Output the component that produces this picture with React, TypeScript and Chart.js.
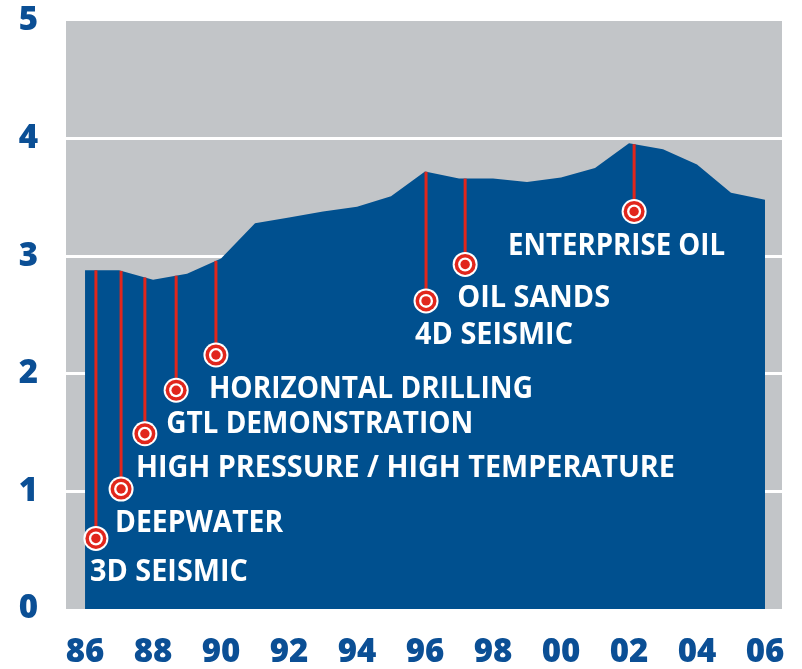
import React, { useEffect, useRef } from 'react';
import { Chart, registerables } from 'chart.js';

Chart.register(...registerables);

// ---- data ----
const years = [1986, 1987, 1988, 1989, 1990, 1991, 1992, 1993, 1994, 1995, 1996, 1997, 1998, 1999, 2000, 2001, 2002, 2003, 2004, 2005, 2006];
const values = [2.88, 2.88, 2.80, 2.85, 2.98, 3.28, 3.33, 3.38, 3.42, 3.51, 3.72, 3.66, 3.66, 3.63, 3.67, 3.75, 3.96, 3.91, 3.78, 3.54, 3.48];

const xTickYears = [1986, 1988, 1990, 1992, 1994, 1996, 1998, 2000, 2002, 2004, 2006];
const xTickLabels = ['86', '88', '90', '92', '94', '96', '98', '00', '02', '04', '06'];
const yTickValues = [0, 1, 2, 3, 4, 5];
const yTickLabels = ['0', '1', '2', '3', '4', '5'];

const annotationLabels = ['3D SEISMIC', 'DEEPWATER', 'HIGH PRESSURE / HIGH TEMPERATURE', 'GTL DEMONSTRATION', 'HORIZONTAL DRILLING', '4D SEISMIC', 'OIL SANDS', 'ENTERPRISE OIL'];
const annotationYears = [1986.32, 1987.06, 1987.76, 1988.68, 1989.85, 1996.03, 1997.18, 2002.15];
const annotationMarkerValues = [0.60, 1.02, 1.49, 1.86, 2.16, 2.62, 2.93, 3.38];

// ---- layout / style (not data) ----
const labelOffsetX = [-6, -6, -9, -10, -7, -11, -8, -126];
const labelWidths = [158, 168, 539, 307, 324, 158, 153, 217];
const LABEL_DY = 43;

const BLUE = '#00508f';
const TEXT_BLUE = '#0b4f95';
const RED = '#e1261c';
const GREY = '#c2c5c8';
const FONT = '"Open Sans", "DejaVu Sans", sans-serif';

function interp(x: number): number {
  for (let i = 0; i < years.length - 1; i++) {
    if (x >= years[i] && x <= years[i + 1]) {
      const t = (x - years[i]) / (years[i + 1] - years[i]);
      return values[i] + t * (values[i + 1] - values[i]);
    }
  }
  return values[values.length - 1];
}

const bgPlugin = {
  id: 'bgPlugin',
  beforeDraw(chart: any) {
    const { ctx, chartArea } = chart;
    ctx.save();
    ctx.fillStyle = GREY;
    ctx.fillRect(chartArea.left, chartArea.top, chartArea.right - chartArea.left, chartArea.bottom - chartArea.top);
    ctx.restore();
  },
};

const annotationPlugin = {
  id: 'annotationPlugin',
  afterDatasetsDraw(chart: any) {
    const { ctx } = chart;
    const xs = chart.scales.x;
    const ys = chart.scales.y;
    ctx.save();
    annotationLabels.forEach((label, i) => {
      const px = xs.getPixelForValue(annotationYears[i]);
      const py = ys.getPixelForValue(annotationMarkerValues[i]);
      const top = ys.getPixelForValue(interp(annotationYears[i]));
      ctx.strokeStyle = RED;
      ctx.lineWidth = 3;
      ctx.beginPath();
      ctx.moveTo(px, top);
      ctx.lineTo(px, py);
      ctx.stroke();
      const rings: [number, string][] = [[12.5, '#ffffff'], [10.5, RED], [7, '#ffffff'], [4.7, RED]];
      rings.forEach(([r, c]) => {
        ctx.fillStyle = c;
        ctx.beginPath();
        ctx.arc(px, py, r, 0, Math.PI * 2);
        ctx.fill();
      });
      ctx.font = `bold 31px ${FONT}`;
      ctx.fillStyle = '#ffffff';
      ctx.textAlign = 'left';
      ctx.textBaseline = 'alphabetic';
      const w = ctx.measureText(label).width;
      const sx = labelWidths[i] / w;
      ctx.save();
      ctx.translate(px + labelOffsetX[i], py + LABEL_DY);
      ctx.scale(sx, 1);
      ctx.fillText(label, 0, 0);
      ctx.restore();
    });
    ctx.restore();
  },
};

export default function App() {
  const canvasRef = useRef<HTMLCanvasElement | null>(null);

  useEffect(() => {
    document.body.style.margin = '0';
    const canvas = canvasRef.current;
    if (!canvas) return;
    const chart = new Chart(canvas, {
      type: 'line',
      data: {
        datasets: [
          {
            data: years.map((y, i) => ({ x: y, y: values[i] })),
            backgroundColor: BLUE,
            borderColor: BLUE,
            borderWidth: 0,
            pointRadius: 0,
            tension: 0,
            fill: 'origin',
          },
        ],
      },
      options: {
        responsive: false,
        animation: false,
        events: [],
        layout: { padding: { top: 21, right: 20, left: 0, bottom: 0 } },
        plugins: {
          legend: { display: false },
          tooltip: { enabled: false },
          title: { display: false },
        },
        scales: {
          x: {
            type: 'linear',
            min: 1985.44,
            max: 2006.5,
            afterBuildTicks: (scale: any) => {
              scale.ticks = xTickYears.map((v) => ({ value: v }));
            },
            afterFit: (scale: any) => {
              scale.height = 60;
              scale.paddingLeft = 0;
              scale.paddingRight = 0;
            },
            grid: { display: false, drawTicks: false },
            border: { display: false },
            ticks: {
              autoSkip: false,
              maxRotation: 0,
              padding: 24,
              color: TEXT_BLUE,
              font: { family: FONT, size: 33, weight: '800' },
              callback: (v: any) => {
                const idx = xTickYears.indexOf(Number(v));
                return idx >= 0 ? xTickLabels[idx] : '';
              },
            },
          },
          y: {
            min: 0,
            max: 5,
            afterBuildTicks: (scale: any) => {
              scale.ticks = yTickValues.map((v) => ({ value: v }));
            },
            afterFit: (scale: any) => {
              scale.width = 66;
              scale.paddingTop = 0;
              scale.paddingBottom = 0;
            },
            grid: {
              drawTicks: false,
              lineWidth: 3,
              color: (c: any) => (c.tick && (c.tick.value === 0 || c.tick.value === 5) ? 'rgba(0,0,0,0)' : '#ffffff'),
            },
            border: { display: false },
            ticks: {
              padding: 28,
              color: TEXT_BLUE,
              font: { family: FONT, size: 33, weight: '800' },
              callback: (v: any) => {
                const idx = yTickValues.indexOf(Number(v));
                return idx >= 0 ? yTickLabels[idx] : '';
              },
            },
          },
        },
      },
      plugins: [bgPlugin, annotationPlugin],
    });
    return () => chart.destroy();
  }, []);

  return (
    <div style={{ width: 802, height: 669, background: '#ffffff' }}>
      <canvas ref={canvasRef} width={802} height={669} style={{ display: 'block' }} />
    </div>
  );
}
